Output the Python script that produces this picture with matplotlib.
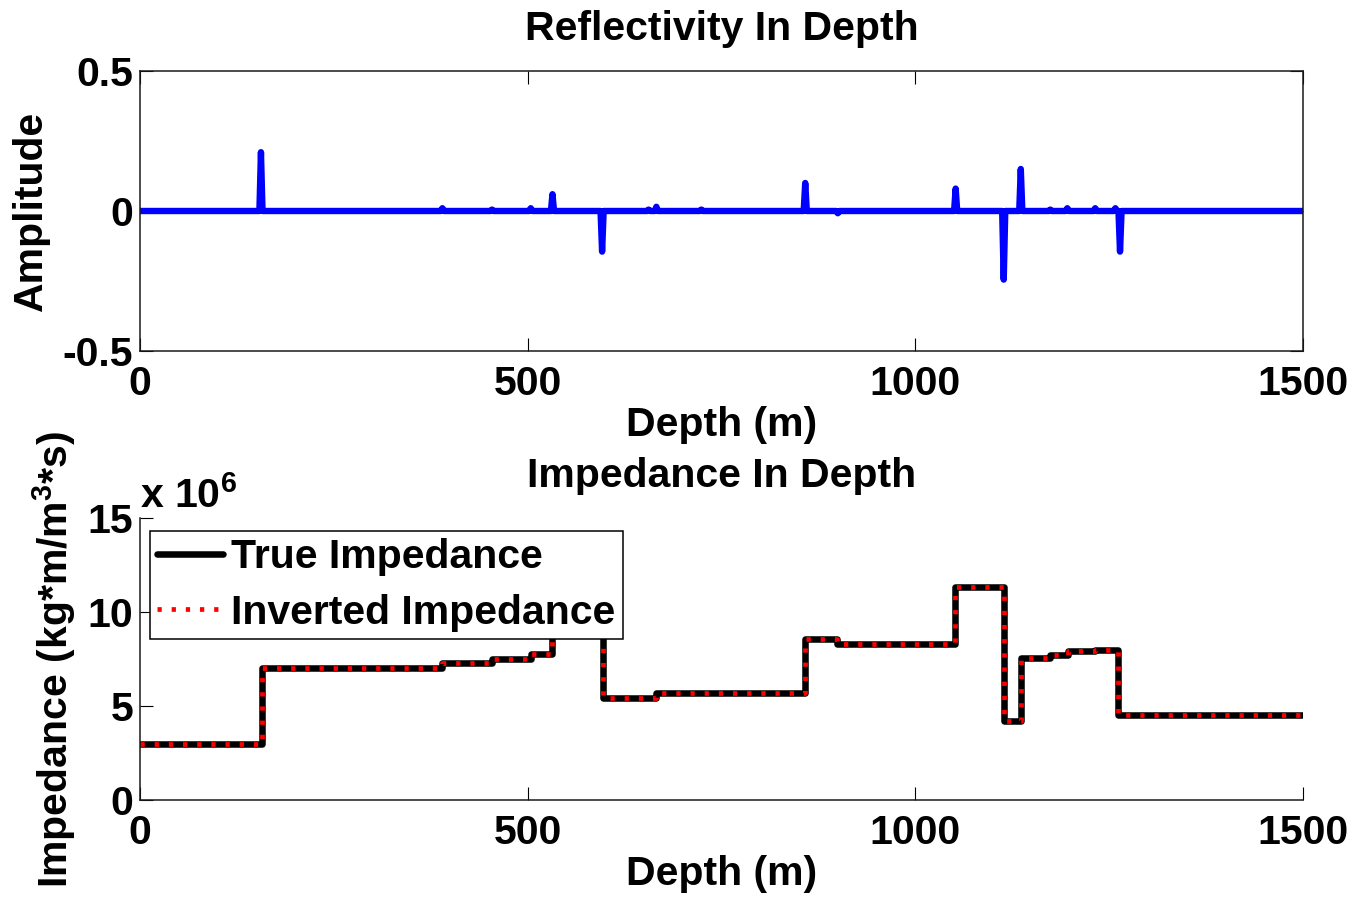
import numpy as np
import matplotlib
matplotlib.use("Agg")
import matplotlib.pyplot as plt

# ---------------- data ----------------
# Reflectivity spikes (depth in m, amplitude)
spike_depths = [157, 390, 454, 504, 531, 597, 656, 666, 724, 858, 899,
                1051, 1114, 1136, 1174, 1197, 1232, 1258, 1263]
spike_amps = [0.21, 0.01, 0.005, 0.01, 0.06, -0.145, 0.005, 0.015, 0.005,
              0.10, -0.008, 0.08, -0.245, 0.15, 0.005, 0.01, 0.01, 0.01, -0.145]
depth_step = 2.0
max_depth = 1500

# Layered impedance model: layer boundaries (m) and impedance (kg/(m^2 s))
layer_edges = [0, 157, 390, 454, 504, 531, 597, 666, 858, 899, 1051,
               1114, 1136, 1174, 1197, 1232, 1262, 1500]
true_impedance = [3.0e6, 7.0e6, 7.3e6, 7.5e6, 7.75e6, 9.8e6, 5.45e6, 5.7e6,
                  8.55e6, 8.3e6, 11.35e6, 4.2e6, 7.55e6, 7.7e6, 7.9e6,
                  8.0e6, 4.5e6]
inverted_impedance = [3.0e6, 7.0e6, 7.3e6, 7.5e6, 7.75e6, 9.8e6, 5.45e6, 5.7e6,
                      8.55e6, 8.3e6, 11.35e6, 4.2e6, 7.55e6, 7.7e6, 7.9e6,
                      8.0e6, 4.5e6]

x_ticks = [0, 500, 1000, 1500]
refl_yticks = [-0.5, 0, 0.5]
imp_yticks = [0, 5, 10, 15]
scale = 1e6

# ---------------- style ----------------
FS = 29.5
plt.rcParams['font.family'] = ['Liberation Sans', 'DejaVu Sans']
plt.rcParams['font.weight'] = 'bold'
plt.rcParams['mathtext.fontset'] = 'custom'
plt.rcParams['mathtext.rm'] = 'Liberation Sans:bold'
plt.rcParams['mathtext.bf'] = 'Liberation Sans:bold'
plt.rcParams['mathtext.it'] = 'Liberation Sans:bold'
plt.rcParams['mathtext.default'] = 'rm'

fig = plt.figure(figsize=(13.54, 8.98), dpi=100)
W, H = 1354, 898


def axes_rect(left, top, right, bottom):
    return [left / W, 1 - bottom / H, (right - left) / W, (bottom - top) / H]


ax1 = fig.add_axes(axes_rect(140, 71, 1303, 351))
ax2 = fig.add_axes(axes_rect(140, 518, 1303, 800))

# ---------------- reflectivity ----------------
depth = np.arange(0, max_depth + depth_step, depth_step)
refl = np.zeros_like(depth)
for d, a in zip(spike_depths, spike_amps):
    refl[int(round(d / depth_step))] = a

ax1.plot(depth, refl, color='#0000ff', lw=4.6, solid_joinstyle='round',
         solid_capstyle='round')
ax1.set_xlim(0, 1500)
ax1.set_ylim(-0.5, 0.5)
ax1.set_xticks(x_ticks)
ax1.set_yticks(refl_yticks)
ax1.set_yticklabels(['-0.5', '0', '0.5'])
ax1.set_title('Reflectivity In Depth', fontsize=FS, fontweight='bold', pad=22)
ax1.set_xlabel('Depth (m)', fontsize=FS, fontweight='bold', labelpad=2)
ax1.set_ylabel('Amplitude', fontsize=FS, fontweight='bold')
ax1.yaxis.set_label_coords(-0.077, 0.5)
ax1.tick_params(direction='in', length=9.5, width=0.8, labelsize=FS,
                top=True, right=True, pad=5)
ax1.tick_params(axis='x', pad=10)
for s in ax1.spines.values():
    s.set_linewidth(1.1)
    s.set_color('#1a1a1a')

# ---------------- impedance ----------------
def step_xy(edges, vals):
    xs = np.repeat(np.asarray(edges, float), 2)[1:-1]
    ys = np.repeat(np.asarray(vals, float), 2) / scale
    return xs, ys


xt, yt = step_xy(layer_edges, true_impedance)
xi, yi = step_xy(layer_edges, inverted_impedance)
ax2.plot(xt, yt, color='black', lw=4.7, solid_joinstyle='round',
         solid_capstyle='round', label='True Impedance')
ax2.plot(xi, yi, color='red', lw=3.4, linestyle=(0, (0.9, 2.1)),
         dash_capstyle='butt', label='Inverted Impedance')
ax2.set_xlim(0, 1500)
ax2.set_ylim(0, 15)
ax2.set_xticks(x_ticks)
ax2.set_yticks(imp_yticks)
ax2.set_title('Impedance In Depth', fontsize=FS, fontweight='bold', pad=22)
ax2.set_xlabel('Depth (m)', fontsize=FS, fontweight='bold', labelpad=2)
ax2.set_ylabel('Impedance (kg*m/m$^{3}$*s)', fontsize=FS, fontweight='bold')
ax2.yaxis.set_label_coords(-0.053, 0.5)
ax2.tick_params(direction='in', length=9.5, width=0.8, labelsize=FS, pad=5)
ax2.tick_params(axis='x', pad=10)
ax2.spines['top'].set_visible(False)
ax2.spines['right'].set_visible(False)
for s in ax2.spines.values():
    s.set_linewidth(1.1)
    s.set_color('#1a1a1a')
ax2.text(0, 1 + 10 / 282, 'x 10$^{6}$', transform=ax2.transAxes,
         fontsize=FS, fontweight='bold', ha='left', va='baseline')

leg = ax2.legend(loc='upper left', bbox_to_anchor=(0.0086, 0.954),
                 borderaxespad=0, frameon=True, fancybox=False,
                 handlelength=1.6, handletextpad=0.2, labelspacing=0.42,
                 borderpad=0.18, prop={'weight': 'bold', 'size': FS})
leg.get_frame().set_edgecolor('black')
leg.get_frame().set_linewidth(1.1)
leg.get_frame().set_alpha(1)
leg.set_zorder(5)

for t in ax1.get_xticklabels() + ax1.get_yticklabels() + \
        ax2.get_xticklabels() + ax2.get_yticklabels():
    t.set_fontweight('bold')

fig.savefig('out.png', dpi=100)
